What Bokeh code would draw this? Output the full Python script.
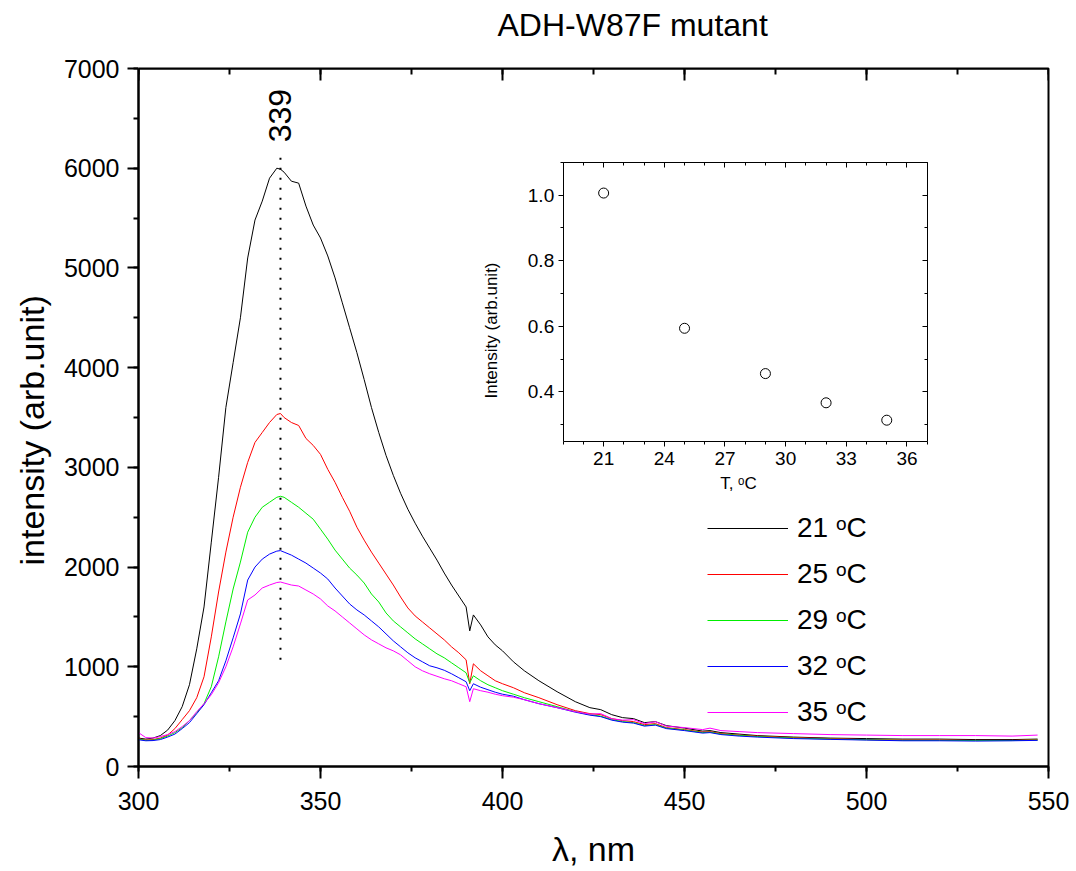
import math
from bokeh.plotting import figure
from bokeh.models import (LinearAxis, Range1d, SingleIntervalTicker, FixedTicker, PrintfTickFormatter, Title)
from bokeh.core.properties import value
from bokeh.embed import file_html
from bokeh.resources import INLINE

# ---------------- data ----------------
wavelength = [300, 302, 304, 306, 308, 310, 312, 314, 316, 318, 320, 322, 324, 326, 328, 330, 332, 334, 336, 338,
              339, 340,
              342, 344, 346, 348, 350, 352, 354, 356, 358, 360, 362, 364, 366, 368, 370, 372, 374, 376, 378, 380,
              382, 384, 386, 388, 390,
              391, 392,
              394, 396, 398, 400,
              403, 406, 410, 415, 420, 424, 427, 430, 433, 436, 439, 442, 445, 450, 455, 457, 460, 465, 470, 480,
              490, 500, 510, 520, 530, 540, 547]

i_21C = [285, 275, 285, 310, 365, 460, 600, 820, 1180, 1600, 2250, 2900, 3600, 4050, 4500, 5100, 5480, 5670, 5900, 6000,
         5990, 5960,
         5870, 5850, 5620, 5430, 5300, 5120, 4900, 4650, 4400, 4150, 3880, 3600, 3350, 3120, 2920, 2740, 2580, 2440,
         2310, 2190, 2070, 1940, 1820, 1710, 1600,
         1360, 1520,
         1420, 1300, 1220, 1160,
         1050, 960, 860, 750, 650, 590, 570, 520, 490, 480, 440, 450, 410, 385, 355, 360, 340, 325, 310, 295, 285,
         280, 275, 275, 270, 270, 275]

i_25C = [280, 265, 270, 285, 315, 380, 470, 560, 690, 900, 1300, 1750, 2150, 2500, 2800, 3050, 3250, 3350, 3450, 3530,
         3540, 3500,
         3450, 3420, 3290, 3220, 3130, 2980, 2850, 2700, 2560, 2400, 2270, 2150, 2040, 1930, 1820, 1700, 1590, 1510,
         1450, 1390, 1330, 1270, 1200, 1140, 1070,
         830, 1030,
         960, 910, 860, 830,
         790, 740, 690, 620, 560, 530, 520, 480, 460, 450, 420, 430, 390, 370, 345, 350, 330, 315, 305, 290, 280,
         270, 265, 265, 262, 262, 268]

i_29C = [275, 262, 265, 280, 305, 340, 390, 460, 540, 630, 800, 1100, 1450, 1780, 2050, 2350, 2500, 2600, 2650, 2700,
         2710, 2700,
         2650, 2600, 2540, 2480, 2380, 2280, 2170, 2080, 1990, 1920, 1840, 1730, 1650, 1540, 1460, 1400, 1340, 1280,
         1230, 1180, 1130, 1090, 1040, 990, 940,
         840, 910,
         860, 820, 790, 760,
         725, 690, 650, 600, 550, 520, 505, 470, 450, 440, 410, 420, 385, 365, 340, 345, 325, 312, 300, 285, 275,
         268, 262, 262, 260, 260, 265]

i_32C = [268, 258, 260, 270, 295, 325, 380, 440, 530, 620, 740, 860, 1060, 1290, 1530, 1870, 2000, 2080, 2130, 2160,
         2165, 2150,
         2120, 2080, 2040, 1990, 1940, 1880, 1790, 1710, 1630, 1570, 1520, 1460, 1400, 1330, 1260, 1200, 1140, 1090,
         1050, 1010, 990, 965, 930, 890, 850,
         760, 830,
         795, 770, 745, 725,
         705, 670, 630, 590, 545, 515, 500, 465, 445, 435, 405, 415, 380, 360, 335, 340, 320, 305, 295, 280, 272,
         265, 258, 258, 255, 258, 262]

i_35C = [340, 290, 285, 300, 320, 350, 400, 460, 550, 630, 720, 840, 1000, 1200, 1430, 1670, 1720, 1790, 1820, 1845,
         1850, 1840,
         1820, 1810, 1770, 1730, 1680, 1610, 1560, 1500, 1440, 1380, 1320, 1270, 1230, 1190, 1160, 1120, 1060, 1000,
         960, 930, 905, 880, 860, 830, 800,
         650, 780,
         760, 745, 725, 710,
         695, 670, 630, 590, 550, 525, 530, 480, 465, 470, 430, 450, 405, 390, 370, 385, 360, 350, 340, 330, 320,
         315, 310, 310, 310, 305, 315]

series_labels = ["21 ᵒC", "25 ᵒC", "29 ᵒC", "32 ᵒC", "35 ᵒC"]
series_colors = ["#000000", "#ff0000", "#00ee00", "#0000ff", "#ff00ff"]

title_text = "ADH-W87F mutant"

peak_wl = 339
peak_drop = [1070, 6140]
peak_label_y = 6260

inset_temp = [21, 25, 29, 32, 35]
inset_rel = [1.006, 0.594, 0.456, 0.367, 0.314]

# ---------------- layout ----------------
W, H = 1076, 871
FL, FR, FT, FB = 138, 1048, 68, 766          # frame box (px)
IL, IR, IT, IB = 562.7, 926.7, 161.7, 440.7  # inset box (px)
IX0, IX1, IY0, IY1 = 19.0, 37.0, 0.25, 1.1
X0, X1, Y0, Y1 = 300, 550, 0, 7000

FONT = "Liberation Sans"

p = figure(width=W, height=H, output_backend="svg", toolbar_location=None,
           x_range=Range1d(X0, X1), y_range=Range1d(Y0, Y1),
           min_border_left=FL, min_border_right=W - FR, min_border_top=FT, min_border_bottom=H - FB,
           title=title_text)
p.xgrid.visible = False
p.ygrid.visible = False
p.outline_line_color = "black"
p.outline_line_width = 2
p.background_fill_color = "white"
p.border_fill_color = "white"

# chart title (left aligned with an offset so that it sits where the original has it)
p.title.align = "left"
p.title.offset = 359
p.title.standoff = 0
p.title.vertical_align = "bottom"
p.title.text_font = FONT
p.title.text_font_size = "32px"
p.title.text_font_style = "normal"
p.title.text_color = "black"


def title_axis(centre, half, label, standoff, size, loc=None, xr="default", yr="default"):
    """An axis without line/ticks that only carries a text."""
    ax = LinearAxis(x_range_name=xr, y_range_name=yr,
                    bounds=(centre - half, centre + half),
                    ticker=FixedTicker(ticks=[]), axis_line_color=None,
                    major_tick_in=0, major_tick_out=0, minor_tick_in=0, minor_tick_out=0,
                    major_label_text_color=None, axis_label=label, axis_label_standoff=standoff,
                    axis_label_text_font=FONT, axis_label_text_font_size=size,
                    axis_label_text_font_style="normal", axis_label_text_color="black")
    if loc is not None:
        ax.fixed_location = loc
    return ax


def style_main(ax, tick_out):
    ax.axis_line_width = 2
    ax.major_tick_line_width = 2
    ax.minor_tick_line_width = 2
    ax.major_tick_in = 0
    ax.major_tick_out = tick_out
    ax.minor_tick_in = 0
    ax.minor_tick_out = 5
    ax.major_label_text_font = FONT
    ax.major_label_text_font_size = "25px"
    ax.major_label_text_color = "black"


xa = p.xaxis[0]
xa.ticker = SingleIntervalTicker(interval=50, num_minor_ticks=2)
style_main(xa, 12)
xa.major_label_standoff = 13
xa.axis_label = "λ, nm"
xa.axis_label_text_font = FONT
xa.axis_label_text_font_size = "34px"
xa.axis_label_text_font_style = "normal"
xa.axis_label_text_color = "black"
xa.axis_label_standoff = 17

ya = p.yaxis[0]
ya.ticker = SingleIntervalTicker(interval=1000, num_minor_ticks=2)
style_main(ya, 11)
ya.major_label_standoff = 8

# y title: a side title, so that it can sit a little below the frame centre as in the original
p.add_layout(Title(text="intensity (arb.unit)", align="left", offset=201, vertical_align="middle",
                   standoff=17, text_font=FONT, text_font_size="34px", text_font_style="normal",
                   text_color="black"), "left")

top = LinearAxis(fixed_location=Y1, ticker=SingleIntervalTicker(interval=50, num_minor_ticks=2),
                 axis_line_width=2, major_tick_line_width=2, minor_tick_line_width=2,
                 major_tick_in=12, major_tick_out=0, minor_tick_in=6, minor_tick_out=0,
                 major_label_text_color=None)
p.add_layout(top, "above")

# blank spacer between the frame and the chart title (one white tick gives it its height)
spacer = LinearAxis(ticker=FixedTicker(ticks=[X0]), axis_line_color=None,
                    major_tick_line_color="white", major_tick_line_width=1,
                    major_tick_in=0, major_tick_out=26, minor_tick_in=0, minor_tick_out=0,
                    major_label_text_color=None, major_label_text_font_size="1px", major_label_standoff=0)
p.add_layout(spacer, "above")

# ---------------- spectra ----------------
for ys, c, lab in zip([i_21C, i_25C, i_29C, i_32C, i_35C], series_colors, series_labels):
    p.line(wavelength, ys, line_color=c, line_width=1, legend_label=lab)

p.line([peak_wl, peak_wl], peak_drop, line_color="black", line_width=2, line_dash="2 8")
p.text(x=[peak_wl], y=[peak_label_y], text=[str(peak_wl)], angle=math.pi / 2,
       text_font=value(FONT), text_font_size="32px", text_align="left", text_baseline="middle",
       text_color="black")

lg = p.legend[0]
lg.location = (569, 34.5)
lg.glyph_width = 81
lg.glyph_height = 40
lg.label_height = 40
lg.label_standoff = 9
lg.spacing = 6
lg.padding = 0
lg.margin = 0
lg.border_line_color = None
lg.background_fill_alpha = 0
lg.label_text_font = FONT
lg.label_text_font_size = "28px"
lg.label_text_color = "black"

# ---------------- inset (extra ranges mapped onto the inset box) ----------------
sx = (IX1 - IX0) / (IR - IL)
sy = (IY1 - IY0) / (IB - IT)
p.extra_x_ranges = {"ix": Range1d(IX0 - (IL - FL) * sx, IX1 + (FR - IR) * sx)}
p.extra_y_ranges = {"iy": Range1d(IY0 - (FB - IB) * sy, IY1 + (IT - FT) * sy)}


def inset_axis(loc, bounds, ticker, inward, fmt=None):
    ax = LinearAxis(x_range_name="ix", y_range_name="iy", fixed_location=loc, bounds=bounds, ticker=ticker,
                    axis_line_width=1, major_tick_line_width=1, minor_tick_line_width=1,
                    major_label_text_font=FONT, major_label_text_font_size="19px",
                    major_label_text_color="black", major_label_standoff=6)
    if fmt is not None:
        ax.formatter = fmt
    if inward:
        ax.major_tick_in, ax.major_tick_out, ax.minor_tick_in, ax.minor_tick_out = 5, 0, 3, 0
        ax.major_label_text_color = None
    else:
        ax.major_tick_in, ax.major_tick_out, ax.minor_tick_in, ax.minor_tick_out = 0, 5, 0, 3
    return ax


tx = lambda: SingleIntervalTicker(interval=3, num_minor_ticks=3)
ty = lambda: SingleIntervalTicker(interval=0.2, num_minor_ticks=2)

p.add_layout(inset_axis(IY0, (IX0, IX1), tx(), False), "below")
il = inset_axis(IX0, (IY0, IY1), ty(), False, PrintfTickFormatter(format="%.1f"))
il.major_label_standoff = 4
p.add_layout(il, "left")
p.add_layout(inset_axis(IY1, (IX0, IX1), tx(), True), "above")
p.add_layout(inset_axis(IX1, (IY0, IY1), ty(), True), "right")

# inset axis titles (centred as in the original)
p.add_layout(title_axis(27.67, 8.67, "T, ᵒC", 32, "17px", IY0, "ix", "iy"), "below")
p.add_layout(title_axis(0.587, 0.337, "Intensity (arb.unit)", 63, "17px", IX0, "ix", "iy"), "left")

p.scatter(inset_temp, inset_rel, x_range_name="ix", y_range_name="iy", marker="circle", size=10,
          fill_color=None, line_color="black", line_width=1)

open("out.html", "w").write(file_html(p, INLINE))
